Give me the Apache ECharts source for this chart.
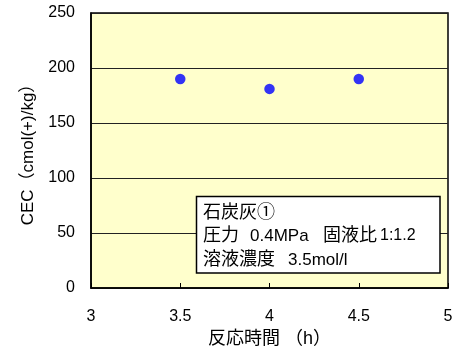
<!DOCTYPE html>
<html><head><meta charset="utf-8">
<script src="https://cdn.jsdelivr.net/npm/echarts@6/dist/echarts.min.js"></script>
<style>html,body{margin:0;padding:0;background:#fff}#c{width:457px;height:349px}</style>
</head><body><div id="c"></div>
<script>
const xValues = [3.5, 4.0, 4.5];
const cecValues = [190, 181, 190];
const xTicks = [3, 3.5, 4, 4.5, 5];
const yTicks = [0, 50, 100, 150, 200, 250];
const noteLine1 = ['石炭灰①'];
const noteLine2 = ['圧力', '0.4MPa', '固液比', '1:1.2'];
const noteLine3 = ['溶液濃度', '3.5mol/l'];
const xName = '反応時間 （h）';
const yName = 'CEC（cmol(+)/kg）';

const FONT = '"Liberation Sans", "Noto Sans CJK JP", sans-serif';
function txt(s, x, yc, size) {
  return {type: 'text', x: x, y: yc, z: 101,
    style: {text: s, font: size + 'px ' + FONT, fill: '#000', verticalAlign: 'middle'}};
}
const chart = echarts.init(document.getElementById('c'), null, {renderer: 'canvas'});
chart.setOption({
  animation: false,
  backgroundColor: '#ffffff',
  textStyle: {fontFamily: FONT},
  grid: {left: 91, right: 9, top: 13, bottom: 61, containLabel: false, outerBoundsMode: 'none',
    show: true, backgroundColor: '#FFFFCC', borderColor: '#000', borderWidth: 1.5},
  xAxis: {
    type: 'value', min: xTicks[0], max: xTicks[xTicks.length - 1], interval: 0.5,
    name: xName, nameLocation: 'middle', nameGap: 40,
    nameTextStyle: {fontSize: 18, color: '#000', fontFamily: FONT},
    axisLine: {show: true, lineStyle: {color: '#000', width: 1.5}},
    axisTick: {show: true, inside: true, length: 5, lineStyle: {color: '#000'}},
    axisLabel: {color: '#000', fontSize: 16, margin: 21, fontFamily: FONT, formatter: v => String(v)},
    splitLine: {show: false}
  },
  yAxis: {
    type: 'value', min: yTicks[0], max: yTicks[yTicks.length - 1], interval: 50,
    name: yName, nameLocation: 'middle', nameGap: 54,
    nameTextStyle: {fontSize: 17, color: '#000', fontFamily: FONT},
    axisLine: {show: true, lineStyle: {color: '#000', width: 1.5}},
    axisTick: {show: false},
    axisLabel: {color: '#000', fontSize: 16, margin: 16, fontFamily: FONT},
    splitLine: {show: true, lineStyle: {color: '#222', width: 1}}
  },
  series: [{
    type: 'scatter',
    data: xValues.map((x, i) => [x, cecValues[i]]),
    symbol: 'circle', symbolSize: 10.5,
    itemStyle: {color: '#0000FF'}
  }],
  graphic: [
    {type: 'rect', z: 100, shape: {x: 196.5, y: 196.5, width: 243.5, height: 76.5},
      style: {fill: '#fff', stroke: '#000', lineWidth: 1.5}},
    txt(noteLine1[0], 203, 213, 18),
    txt(noteLine2[0], 203, 236, 18),
    txt(noteLine2[1], 250, 236, 17),
    txt(noteLine2[2], 323, 236, 18),
    txt(noteLine2[3], 380, 236, 16),
    txt(noteLine3[0], 203, 260, 18),
    txt(noteLine3[1], 288, 260, 17)
  ]
});
</script></body></html>
